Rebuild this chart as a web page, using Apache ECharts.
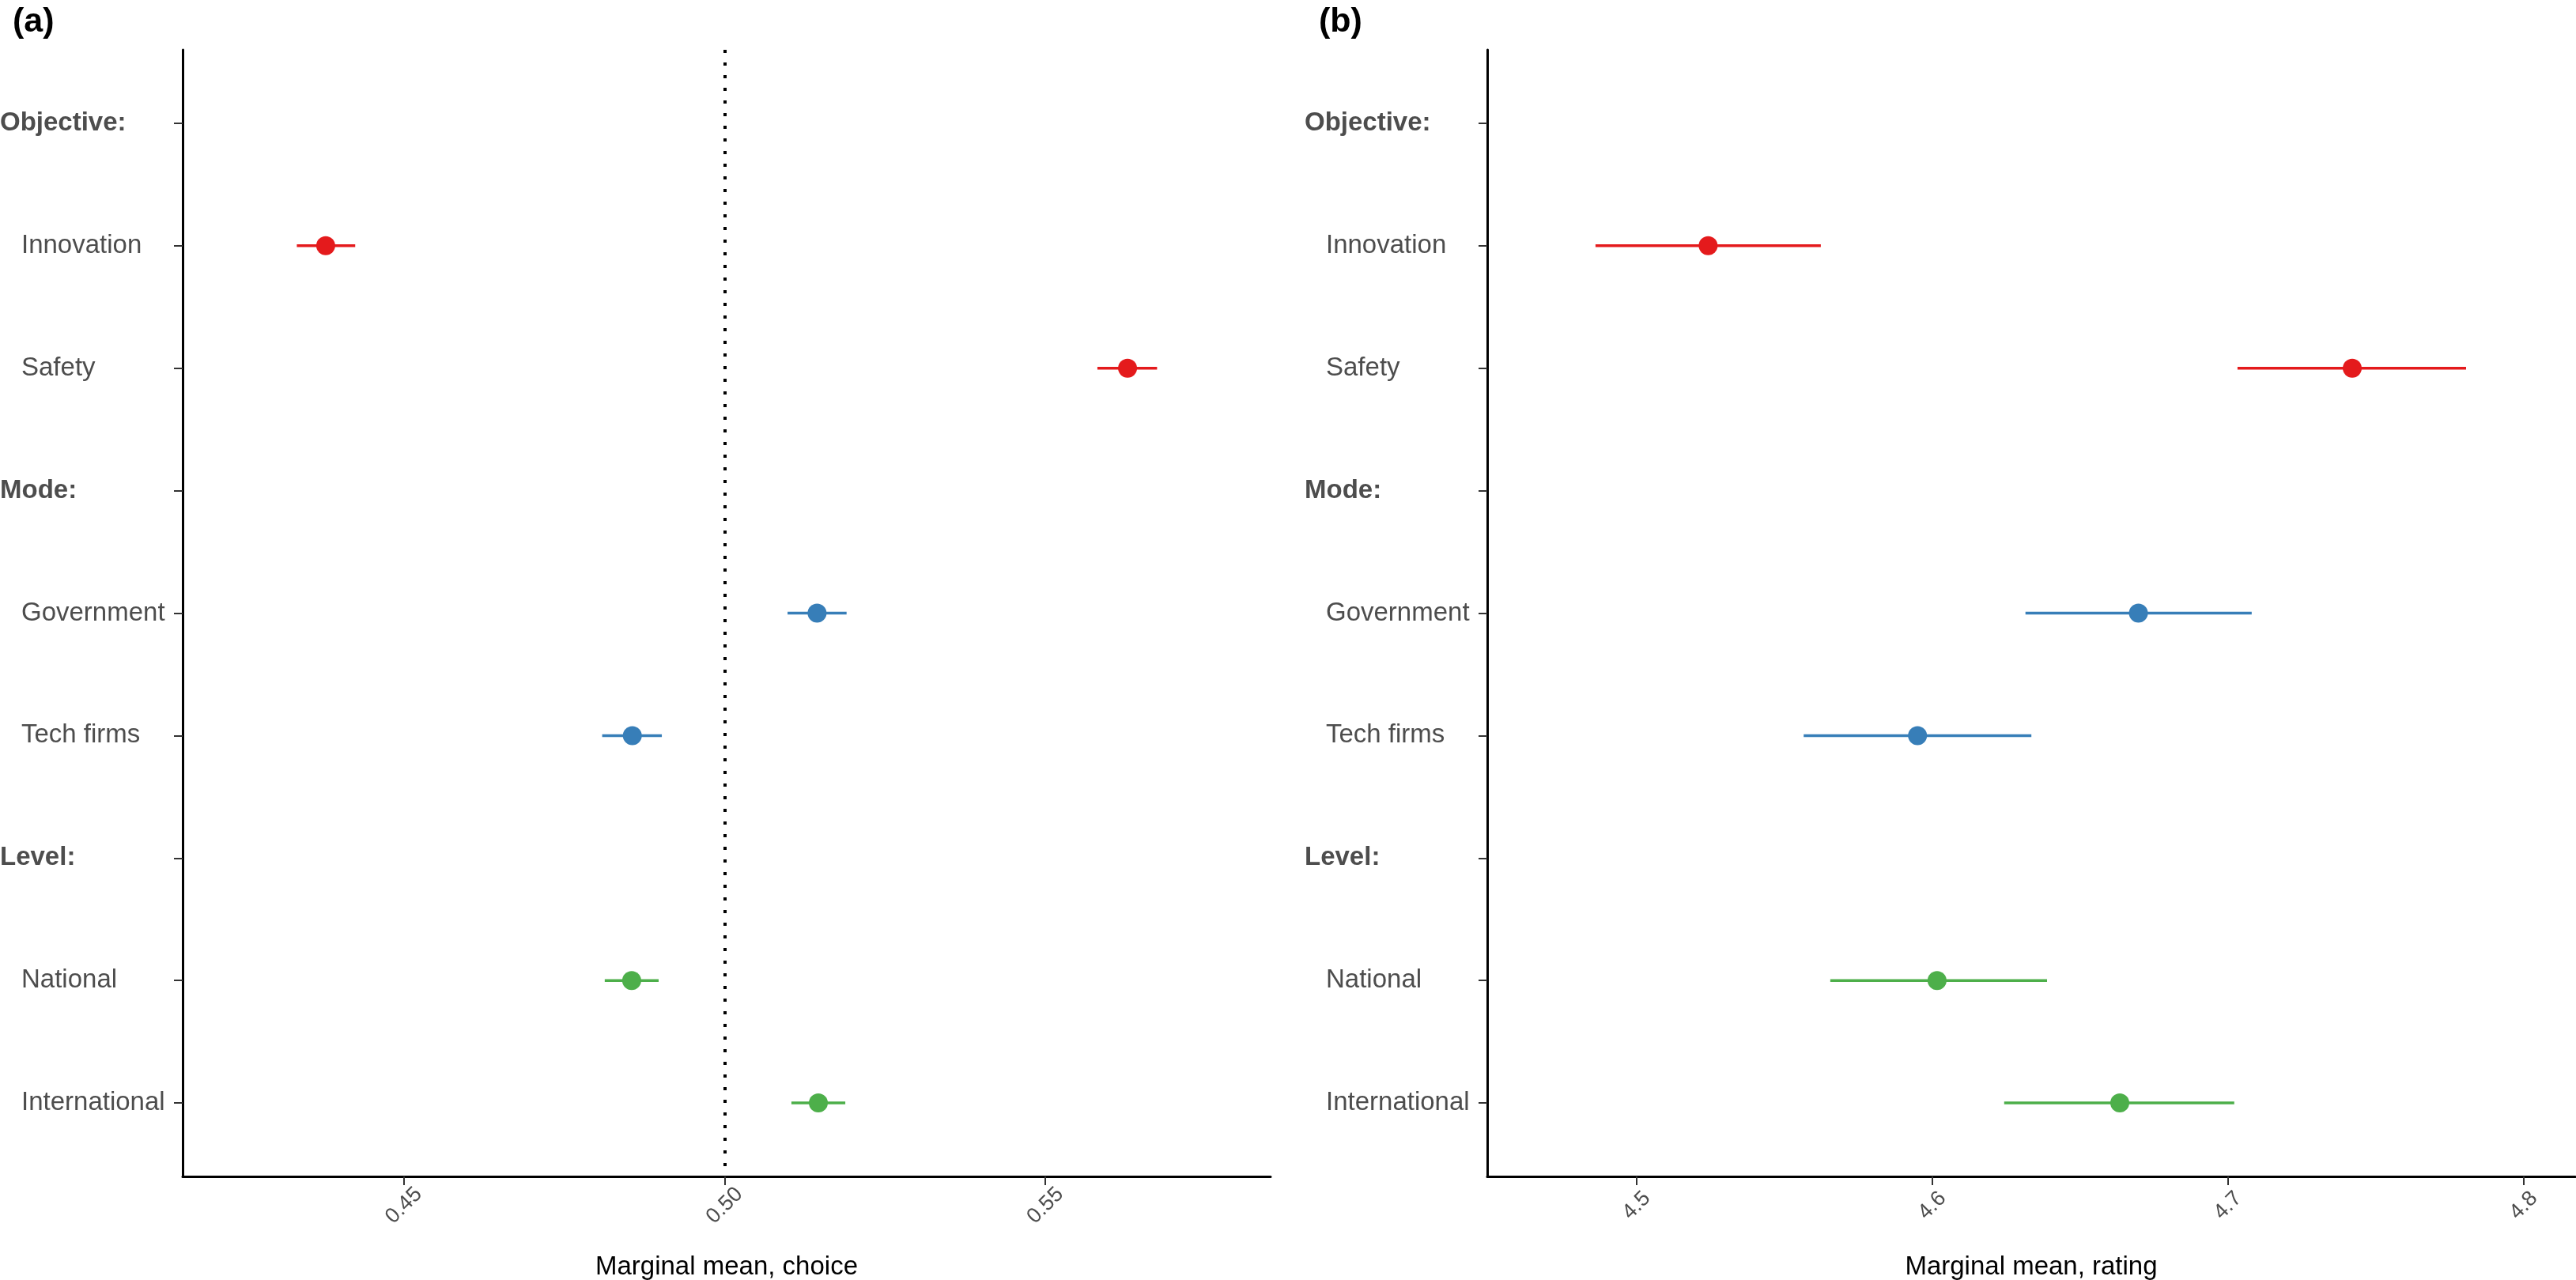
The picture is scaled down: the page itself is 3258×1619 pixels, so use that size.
<!DOCTYPE html>
<html>
<head>
<meta charset="utf-8">
<title>Marginal means</title>
<script src="https://cdn.jsdelivr.net/npm/echarts@6/dist/echarts.min.js"></script>
<style>
  html, body { margin: 0; padding: 0; background: #fff; }
  #chart { width: 3258px; height: 1619px; }
</style>
</head>
<body>
<div id="chart"></div>
<script>
// rows of the y axis (headers end with ':')
var rows = ['Objective:', 'Innovation', 'Safety', 'Mode:', 'Government', 'Tech firms', 'Level:', 'National', 'International'];
// which row and which group each attribute level belongs to
var levelRow = [1, 2, 4, 5, 7, 8];
var levelGroup = [0, 0, 1, 1, 2, 2];
var groupColors = ['#E41A1C', '#377EB8', '#4DAF4A'];

// (a) choice
var choiceMean = [0.4378, 0.5628, 0.5144, 0.4856, 0.4855, 0.5146];
var choiceLo   = [0.4333, 0.5581, 0.5098, 0.4809, 0.4813, 0.5104];
var choiceHi   = [0.4424, 0.5674, 0.5190, 0.4902, 0.4897, 0.5188];
var choiceTicks = [0.45, 0.50, 0.55];

// (b) rating
var ratingMean = [4.5242, 4.7420, 4.6697, 4.5950, 4.6016, 4.6634];
var ratingLo   = [4.4861, 4.7032, 4.6315, 4.5565, 4.5655, 4.6243];
var ratingHi   = [4.5623, 4.7805, 4.7080, 4.6335, 4.6388, 4.7021];
var ratingTicks = [4.5, 4.6, 4.7, 4.8];

var FONT = 'Liberation Sans';
var rowIdx = rows.map(function (r, i) { return i; });

function yAxisFor(gi) {
    return {
        type: 'value', gridIndex: gi, inverse: true,
        min: -0.6, max: rows.length - 1 + 0.6,
        splitLine: { show: false },
        axisLine: { show: true, lineStyle: { color: '#000', width: 3 } },
        axisTick: { show: true, customValues: rowIdx, length: 11, lineStyle: { color: '#333', width: 2 } },
        axisLabel: {
            customValues: rowIdx,
            align: 'left',
            margin: 231,
            formatter: function (v) {
                var name = rows[Math.round(v)];
                if (name.slice(-1) == ':') return '{h|' + name + '}';
                return '{l|' + name + '}';
            },
            rich: {
                h: { fontFamily: FONT, fontSize: 33, fontWeight: 'bold', color: '#4d4d4d' },
                l: { fontFamily: FONT, fontSize: 33, color: '#4d4d4d', padding: [0, 0, 0, 27] }
            }
        }
    };
}

function xAxisFor(gi, min, max, ticks, digits, title) {
    return {
        type: 'value', gridIndex: gi, min: min, max: max,
        splitLine: { show: false },
        axisLine: { show: true, onZero: false, lineStyle: { color: '#000', width: 3 } },
        axisTick: { show: true, customValues: ticks, length: 11, lineStyle: { color: '#333', width: 2 } },
        axisLabel: {
            customValues: ticks,
            rotate: 45,
            align: 'center',
            verticalAlign: 'middle',
            margin: 37,
            fontFamily: FONT, fontSize: 27, color: '#4d4d4d',
            formatter: function (v) { return v.toFixed(digits); }
        },
        name: title,
        nameLocation: 'middle',
        nameGap: 98,
        nameTextStyle: { fontFamily: FONT, fontSize: 33, color: '#000' }
    };
}

function ciSeries(gi, mean, lo, hi) {
    return {
        type: 'custom',
        xAxisIndex: gi, yAxisIndex: gi,
        data: mean.map(function (m, i) { return [lo[i], hi[i], m, levelRow[i], levelGroup[i]]; }),
        encode: { x: [0, 1, 2], y: 3 },
        renderItem: function (params, api) {
            var y = api.value(3);
            var c = groupColors[api.value(4)];
            var a = api.coord([api.value(0), y]);
            var b = api.coord([api.value(1), y]);
            var p = api.coord([api.value(2), y]);
            return {
                type: 'group',
                children: [
                    { type: 'line', shape: { x1: a[0], y1: a[1], x2: b[0], y2: b[1] }, style: { stroke: c, lineWidth: 3.5 } },
                    { type: 'circle', shape: { cx: p[0], cy: p[1], r: 12 }, style: { fill: c } }
                ]
            };
        }
    };
}

var chart = echarts.init(document.getElementById('chart'));

var series = [ciSeries(0, choiceMean, choiceLo, choiceHi), ciSeries(1, ratingMean, ratingLo, ratingHi)];
// reference line at 0.5 on the choice panel
series[0].markLine = {
    silent: true,
    symbol: 'none',
    label: { show: false },
    lineStyle: { color: '#000', width: 4, type: [4, 12], cap: 'butt' },
    data: [{ xAxis: 0.5 }]
};

var option = {
    backgroundColor: '#fff',
    animation: false,
    title: [
        { text: '(a)', left: 11, top: 2, textStyle: { fontFamily: FONT, fontSize: 43, fontWeight: 'bold', color: '#000' } },
        { text: '(b)', left: 1663, top: 2, textStyle: { fontFamily: FONT, fontSize: 43, fontWeight: 'bold', color: '#000' } }
    ],
    grid: [
        { left: 231, right: 1651, top: 63, bottom: 131, containLabel: false, outerBoundsMode: 'none' },
        { left: 1881, right: 1, top: 63, bottom: 131, containLabel: false, outerBoundsMode: 'none' }
    ],
    xAxis: [
        xAxisFor(0, 0.4155, 0.5851, choiceTicks, 2, 'Marginal mean, choice'),
        xAxisFor(1, 4.4495, 4.8174, ratingTicks, 1, 'Marginal mean, rating')
    ],
    yAxis: [yAxisFor(0), yAxisFor(1)],
    series: series
};

chart.setOption(option);
</script>
</body>
</html>
